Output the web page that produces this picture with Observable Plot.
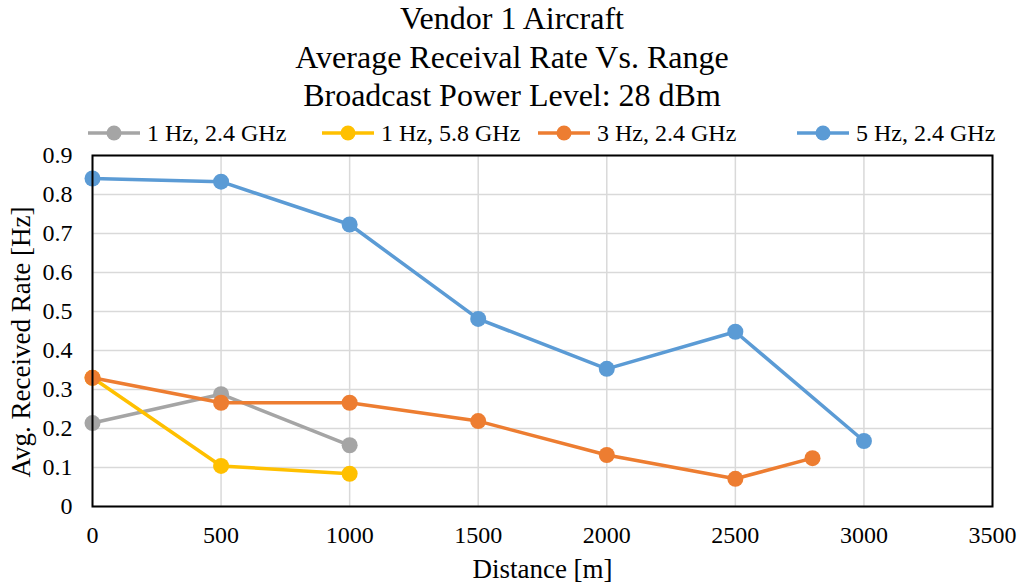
<!DOCTYPE html>
<html><head><meta charset="utf-8">
<script src="https://cdn.jsdelivr.net/npm/d3@7"></script>
<script src="https://cdn.jsdelivr.net/npm/@observablehq/plot@0.6"></script>
<style>
body{margin:0;background:#fff;font-family:"Liberation Serif","Times New Roman",serif;}
#wrap{position:relative;width:1021px;height:586px;overflow:hidden;}
#title{position:absolute;left:0;top:-1px;width:1024px;text-align:center;font-size:32px;line-height:38.5px;color:#000;}
#legend{position:absolute;top:119px;left:0;width:1021px;height:28px;font-size:24px;}
.li{position:absolute;top:0;display:flex;align-items:center;height:28px;white-space:nowrap;}
#chart{position:absolute;left:0;top:145px;}
</style></head>
<body><div id="wrap">
<div id="title">Vendor 1 Aircraft<br>Average Receival Rate Vs. Range<br>Broadcast Power Level: 28 dBm</div>
<div id="legend"></div>
<div id="chart"></div>
</div>
<script>
const seriesNames = ["1 Hz, 2.4 GHz", "1 Hz, 5.8 GHz", "3 Hz, 2.4 GHz", "5 Hz, 2.4 GHz"];
const seriesColors = ["#A5A5A5", "#FFC000", "#ED7D31", "#5B9BD5"];
const dist1Hz24 = [0, 500, 1000];
const rate1Hz24 = [0.214, 0.288, 0.157];
const dist1Hz58 = [0, 500, 1000];
const rate1Hz58 = [0.330, 0.104, 0.084];
const dist3Hz24 = [0, 500, 1000, 1500, 2000, 2500, 2800];
const rate3Hz24 = [0.330, 0.266, 0.266, 0.219, 0.132, 0.071, 0.124];
const dist5Hz24 = [0, 500, 1000, 1500, 2000, 2500, 3000];
const rate5Hz24 = [0.841, 0.833, 0.723, 0.481, 0.353, 0.448, 0.168];
const xTicks = [0, 500, 1000, 1500, 2000, 2500, 3000, 3500];
const yTicks = [0, 0.1, 0.2, 0.3, 0.4, 0.5, 0.6, 0.7, 0.8, 0.9];

const dists = [dist1Hz24, dist1Hz58, dist3Hz24, dist5Hz24];
const rates = [rate1Hz24, rate1Hz58, rate3Hz24, rate5Hz24];
const seriesData = seriesNames.map((name, i) => dists[i].map((d, j) => ({series: name, x: d, y: rates[i][j]})));

const marks = [
  Plot.gridX(xTicks, {stroke: "#d9d9d9", strokeOpacity: 1, strokeWidth: 1.5}),
  Plot.gridY(yTicks, {stroke: "#d9d9d9", strokeOpacity: 1, strokeWidth: 1.5}),
  Plot.axisX(xTicks, {tickSize: 0, tickPadding: 19, fontSize: 24, tickFormat: d => String(d)}),
  Plot.axisY(yTicks, {tickSize: 0, tickPadding: 20, fontSize: 24, tickFormat: d => String(d)}),
];
seriesData.forEach((data, i) => {
  marks.push(Plot.line(data, {x: "x", y: "y", stroke: seriesColors[i], strokeWidth: 3.5}));
  marks.push(Plot.dot(data, {x: "x", y: "y", fill: seriesColors[i], r: 8}));
});
marks.push(Plot.frame({stroke: "#000", strokeWidth: 2}));
marks.push(Plot.text(["Distance [m]"], {frameAnchor: "bottom", dy: 71, fontSize: 27}));
marks.push(Plot.text(["Avg. Received Rate [Hz]"], {frameAnchor: "left", textAnchor: "middle", rotate: -90, dx: -71, dy: 11, fontSize: 27}));

const chart = Plot.plot({
  width: 1021, height: 441,
  marginLeft: 92, marginRight: 29, marginTop: 10, marginBottom: 80,
  style: {fontFamily: "Liberation Serif, Times New Roman, serif", color: "#000", background: "#fff", overflow: "visible"},
  x: {domain: [0, 3500], label: null},
  y: {domain: [0, 0.9], label: null},
  marks
});
document.getElementById("chart").appendChild(chart);

const legend = document.getElementById("legend");
const legendLeft = [88, 322, 538, 797];
seriesNames.forEach((name, i) => {
  const item = document.createElement("div");
  item.className = "li";
  item.style.left = legendLeft[i] + "px";
  item.innerHTML = `<svg width="56" height="20"><line x1="0" y1="10" x2="52" y2="10" stroke="${seriesColors[i]}" stroke-width="3.5"/><circle cx="26" cy="10" r="7.5" fill="${seriesColors[i]}"/></svg><span style="margin-left:3px">${name}</span>`;
  legend.appendChild(item);
});
</script>
</body></html>
